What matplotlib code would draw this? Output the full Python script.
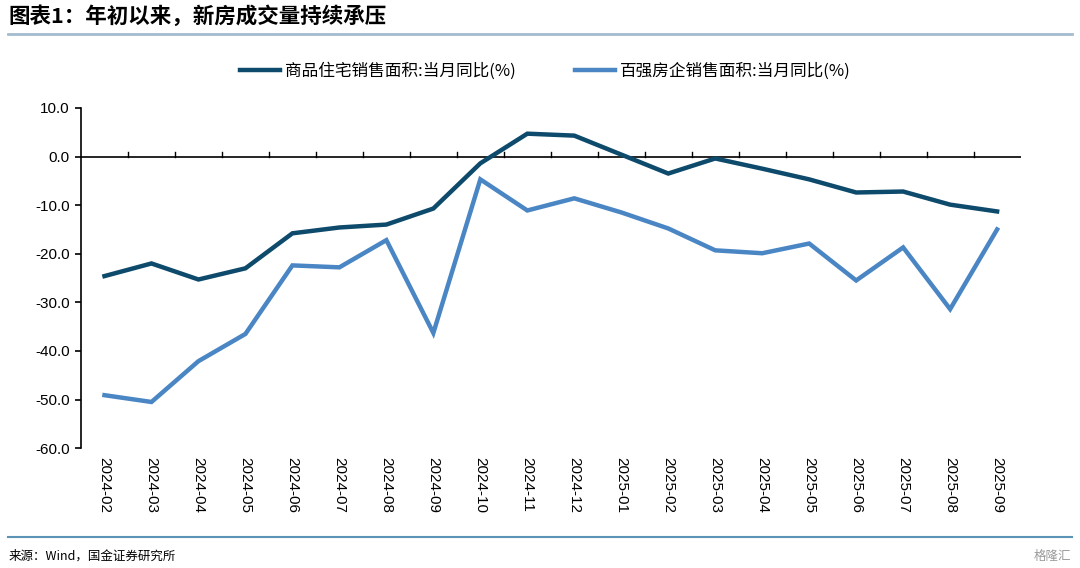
import numpy as np
import matplotlib
matplotlib.use('Agg')
import matplotlib.pyplot as plt
from matplotlib.lines import Line2D

plt.rcParams['font.family'] = ['Liberation Sans', 'Noto Sans CJK SC', 'DejaVu Sans']
plt.rcParams['axes.unicode_minus'] = False

# 数据
months = ['2024-02', '2024-03', '2024-04', '2024-05', '2024-06', '2024-07',
          '2024-08', '2024-09', '2024-10', '2024-11', '2024-12', '2025-01',
          '2025-02', '2025-03', '2025-04', '2025-05', '2025-06', '2025-07',
          '2025-08', '2025-09']
resi_area = [-24.6, -22.0, -25.3, -23.0, -15.8, -14.6, -14.0, -10.7, -1.4, 4.7,
             4.3, 0.4, -3.5, -0.4, -2.5, -4.7, -7.4, -7.2, -9.9, -11.3]
top100_area = [-49.1, -50.5, -42.1, -36.5, -22.4, -22.8, -17.2, -36.3, -4.7, -11.1,
               -8.6, -11.5, -14.8, -19.3, -19.9, -17.9, -25.5, -18.7, -31.4, -15.0]
yticks = [10, 0, -10, -20, -30, -40, -50, -60]

name1 = '商品住宅销售面积:当月同比(%)'
name2 = '百强房企销售面积:当月同比(%)'
c1 = '#0d4a6b'
c2 = '#4a86c4'

fig = plt.figure(figsize=(10.8, 5.68), dpi=100)
ax = fig.add_axes([0.075, 0.211, 0.870, 0.599])

x = np.arange(len(months))
ax.plot(x, resi_area, color=c1, lw=3.2, solid_joinstyle='miter', zorder=3)
ax.plot(x, top100_area, color=c2, lw=3.2, solid_joinstyle='miter', zorder=3)

ax.set_xlim(-0.5, len(months) - 0.5)
ax.set_ylim(-60, 10)
ax.set_yticks(yticks)
ax.set_yticklabels([f'{v:.1f}' for v in yticks], fontsize=11)

# x 轴画在 0 处，刻度在类别边界
for s in ['top', 'right', 'bottom']:
    ax.spines[s].set_visible(False)
ax.spines['left'].set_linewidth(1.2)
ax.axhline(0, color='black', lw=1.2, zorder=2)
for b in np.arange(0.5, len(months) - 0.5, 1):
    ax.plot([b, b], [0, 1.0], color='black', lw=1.0, zorder=2)
ax.set_xticks([])
for i, m in enumerate(months):
    ax.text(i, -61.8, m, rotation=-90, ha='center', va='top', fontsize=11,
            family='Liberation Sans')
ax.tick_params(axis='y', direction='out', length=4, width=1.2, pad=4)

# 图例
handles = [Line2D([0], [0], color=c1, lw=3.2), Line2D([0], [0], color=c2, lw=3.2)]
fig.legend(handles, [name1, name2], loc='center', bbox_to_anchor=(0.505, 0.875),
           ncol=2, frameon=False, handlelength=2.4,
           handletextpad=0.3, columnspacing=3.6,
           prop={'family': ['Noto Sans CJK SC'], 'size': 12})

# 标题与来源
fig.text(0.008, 0.972, '图表1：年初以来，新房成交量持续承压', fontsize=15.5,
         fontweight='bold', style='italic', ha='left', va='center',
         family=['Noto Sans CJK SC'])
fig.add_artist(Line2D([0.007, 0.993], [0.940, 0.940], color='#a3bccf', lw=2))
fig.add_artist(Line2D([0.007, 0.993], [0.054, 0.054], color='#5a93b5', lw=1.5))
fig.text(0.008, 0.021, '来源：Wind，国金证券研究所', fontsize=9, ha='left',
         va='center', family=['Noto Sans CJK SC'])
fig.text(0.992, 0.021, '格隆汇', fontsize=9, ha='right', va='center',
         color='#9a9a9a', family=['Noto Sans CJK SC'])

fig.savefig('out.png', dpi=100, facecolor='white')
